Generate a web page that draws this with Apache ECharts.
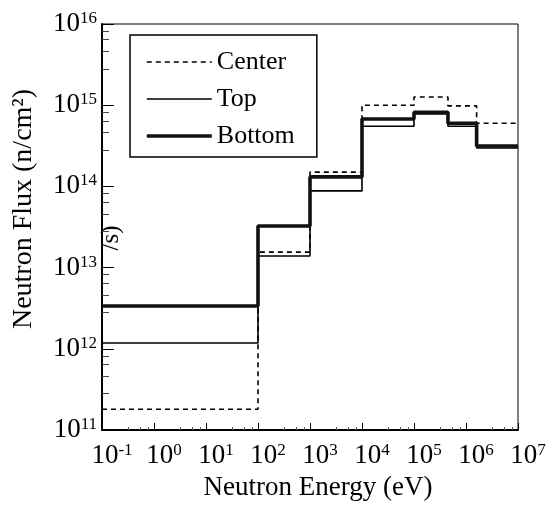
<!DOCTYPE html>
<html>
<head>
<meta charset="utf-8">
<script src="https://cdn.jsdelivr.net/npm/echarts@6/dist/echarts.min.js"></script>
<style>
  html, body { margin: 0; padding: 0; background: #fff; }
  #chart { width: 550px; height: 511px; }
</style>
</head>
<body>
<div id="chart"></div>
<script>
// Group boundaries of the neutron energy structure (eV)
const energyEdges = [0.1, 100, 1e3, 1e4, 1e5, 4.5e5, 1.6e6, 1e7];

// Group-wise flux (n/cm^2/s) at the three positions
const centerFlux = [1.8e11, 1.55e13, 1.5e14, 1.0e15, 1.26e15, 9.8e14, 6.0e14];
const topFlux    = [1.18e12, 1.39e13, 8.8e13, 5.5e14, 7.8e14, 5.5e14, 2.97e14];
const bottomFlux = [3.37e12, 3.25e13, 1.31e14, 6.76e14, 8.2e14, 6.0e14, 3.15e14];

// Tick labels (decade exponents) on each axis
const xExponents = [-1, 0, 1, 2, 3, 4, 5, 6, 7];
const yExponents = [11, 12, 13, 14, 15, 16];

const serif = "'Liberation Serif', 'Times New Roman', serif";

// Histogram outline: each group value starts at its lower edge,
// the last value is repeated at the upper edge so the step closes.
function stepData(values) {
  const pts = values.map((v, i) => [energyEdges[i], v]);
  pts.push([energyEdges[energyEdges.length - 1], values[values.length - 1]]);
  return pts;
}

function powerLabel(exps) {
  return function (value) {
    const e = Math.round(Math.log10(value));
    if (exps.indexOf(e) < 0) return '';
    return '{b|10}{s|' + e + '}';
  };
}

const richPow = {
  b: { fontSize: 27, fontFamily: serif, color: '#000', lineHeight: 28 },
  s: { fontSize: 17, fontFamily: serif, color: '#000', verticalAlign: 'top', lineHeight: 16 }
};

const chart = echarts.init(document.getElementById('chart'), null, { renderer: 'canvas' });

chart.setOption({
  animation: false,
  backgroundColor: '#fff',
  grid: {
    left: 102, right: 32, top: 24, bottom: 81,
    show: true, borderColor: '#000', borderWidth: 1, backgroundColor: 'transparent'
  },
  legend: {
    orient: 'vertical',
    left: 130, top: 35,
    padding: [14, 22, 8, 15],
    itemGap: 11,
    itemWidth: 65,
    itemHeight: 14,
    borderColor: '#000',
    borderWidth: 1.5,
    backgroundColor: '#fff',
    itemStyle: { opacity: 0 },
    lineStyle: { width: 'inherit', type: 'inherit' },
    data: ['Center', 'Top', 'Bottom'],
    textStyle: { fontFamily: serif, fontSize: 26, color: '#000', lineHeight: 24 }
  },
  xAxis: {
    type: 'log',
    logBase: 10,
    min: 0.1,
    max: 1e7,
    interval: 1,
    name: 'Neutron Energy (eV)',
    nameLocation: 'middle',
    nameGap: 40,
    nameTextStyle: { fontFamily: serif, fontSize: 27, color: '#000', padding: [0, 0, 0, 16] },
    axisLine: { show: true, lineStyle: { color: '#000', width: 2 } },
    axisTick: { show: true, inside: true, length: 7, lineStyle: { color: '#000', width: 1 } },
    minorTick: { show: true, splitNumber: 4, length: 3, lineStyle: { color: '#555', width: 1 } },
    splitLine: { show: false },
    axisLabel: {
      formatter: powerLabel(xExponents),
      rich: richPow,
      margin: 12,
      padding: [0, 0, 0, 20],
      color: '#000'
    }
  },
  yAxis: {
    type: 'log',
    logBase: 10,
    min: 1e11,
    max: 1e16,
    interval: 1,
    name: 'Neutron Flux (n/cm²)',
    nameLocation: 'middle',
    nameRotate: 90,
    nameGap: 64,
    nameTextStyle: { fontFamily: serif, fontSize: 28, color: '#000', padding: [0, 0, 0, 36] },
    axisLine: { show: true, lineStyle: { color: '#000', width: 2 } },
    axisTick: { show: true, inside: true, length: 12, lineStyle: { color: '#000', width: 1 } },
    minorTick: { show: true, splitNumber: 5, length: 7, lineStyle: { color: '#444', width: 1 } },
    splitLine: { show: false },
    axisLabel: {
      formatter: powerLabel(yExponents),
      rich: richPow,
      margin: 5,
      color: '#000'
    }
  },
  graphic: [
    {
      type: 'text',
      x: 111, y: 238,
      rotation: Math.PI / 2,
      style: {
        text: '/s)',
        fontFamily: serif,
        fontSize: 25,
        fill: '#000',
        align: 'center',
        verticalAlign: 'middle'
      }
    }
  ],
  series: [
    {
      name: 'Center',
      type: 'line',
      step: 'end',
      symbol: 'none',
      data: stepData(centerFlux),
      lineStyle: { color: '#000', width: 1.6, type: [5, 4] },
      itemStyle: { color: '#000' },
      z: 3
    },
    {
      name: 'Top',
      type: 'line',
      step: 'end',
      symbol: 'none',
      data: stepData(topFlux),
      lineStyle: { color: '#000', width: 1.6, type: 'solid' },
      itemStyle: { color: '#000' },
      z: 4
    },
    {
      name: 'Bottom',
      type: 'line',
      step: 'end',
      symbol: 'none',
      data: stepData(bottomFlux),
      lineStyle: { color: '#111', width: 3.6, type: 'solid' },
      itemStyle: { color: '#111' },
      z: 5
    }
  ]
});
</script>
</body>
</html>
